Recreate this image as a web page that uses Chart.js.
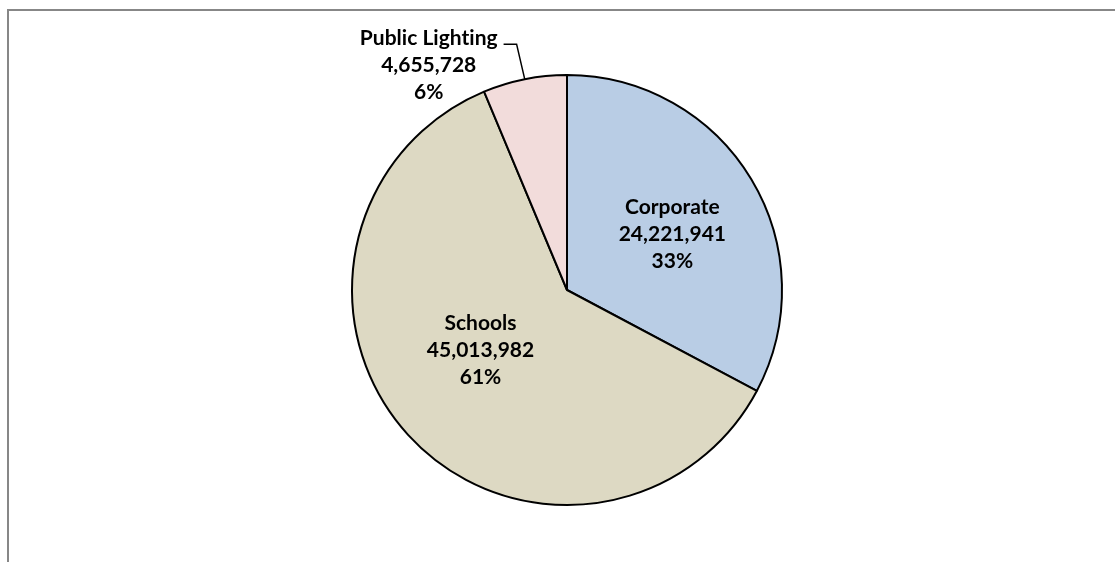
<!DOCTYPE html>
<html>
<head>
<meta charset="utf-8">
<script src="https://cdn.jsdelivr.net/npm/chart.js@4.4.0/dist/chart.umd.min.js"></script>
<style>
  html, body { margin: 0; padding: 0; background: #fff; overflow: hidden; }
  #wrap { position: relative; width: 1115px; height: 562px; }
  #frame {
    position: absolute; left: 7px; top: 9px; width: 1200px; height: 700px;
    border-left: 2px solid #878787; border-top: 2px solid #878787;
  }
  #chart { position: absolute; left: 0; top: 0; }
</style>
</head>
<body>
<div id="wrap">
  <div id="frame"></div>
  <canvas id="chart" width="1115" height="562"></canvas>
</div>
<script>
"use strict";

// chart data
const categories = ['Corporate', 'Schools', 'Public Lighting'];
const values = [24221941, 45013982, 4655728];
const sliceColors = ['#B9CDE5', '#DDD9C3', '#F2DCDB'];

// label placement per slice: fraction of radius along mid angle, plus nudge
const labelPlacement = [
  { frac: 0.55, dx: 4, dy: 5, leader: false },
  { frac: 0.50, dx: -7, dy: -12, leader: false },
  { frac: 1.0, dx: -96, dy: -14, leader: true }
];

const sliceLabels = {
  id: 'sliceLabels',
  afterDatasetsDraw(chart) {
    const ctx = chart.ctx;
    const meta = chart.getDatasetMeta(0);
    const data = chart.data.datasets[0].data;
    const total = data.reduce((a, b) => a + b, 0);
    const lineH = 27;

    ctx.save();
    ctx.font = 'bold 21px Lato, "Open Sans", sans-serif';
    if ('letterSpacing' in ctx) ctx.letterSpacing = '0.01px'; // avoid "ti" ligature
    ctx.fillStyle = '#000';
    ctx.textAlign = 'center';
    ctx.textBaseline = 'middle';

    meta.data.forEach((arc, i) => {
      const p = arc.getProps(['x', 'y', 'startAngle', 'endAngle', 'outerRadius'], true);
      const mid = (p.startAngle + p.endAngle) / 2;
      const place = labelPlacement[i];
      const r = p.outerRadius * place.frac;
      const ex = p.x + Math.cos(mid) * r;
      const ey = p.y + Math.sin(mid) * r;
      const cx = ex + place.dx;
      const cy = ey + place.dy;

      const lines = [
        chart.data.labels[i],
        data[i].toLocaleString('en-US'),
        Math.round(data[i] / total * 100) + '%'
      ];
      const firstY = cy - lineH;
      lines.forEach((t, k) => ctx.fillText(t, cx, firstY + k * lineH));

      if (place.leader) {
        const maxW = Math.max(...lines.map(t => ctx.measureText(t).width));
        const startX = cx + maxW / 2 + 6;
        const ly = firstY + 6;
        ctx.beginPath();
        ctx.strokeStyle = '#000';
        ctx.lineWidth = 1.5;
        ctx.moveTo(startX, ly);
        ctx.lineTo(startX + 13, ly);
        ctx.lineTo(ex, ey);
        ctx.stroke();
      }
    });
    ctx.restore();
  }
};

new Chart(document.getElementById('chart'), {
  type: 'pie',
  data: {
    labels: categories,
    datasets: [{
      data: values,
      backgroundColor: sliceColors,
      borderColor: '#000',
      borderWidth: 2,
      hoverOffset: 0
    }]
  },
  options: {
    responsive: false,
    animation: false,
    layout: {
      padding: { left: 19, right: 0, top: 74, bottom: 56 }
    },
    plugins: {
      legend: { display: false },
      tooltip: { enabled: false }
    }
  },
  plugins: [sliceLabels]
});
</script>
</body>
</html>
